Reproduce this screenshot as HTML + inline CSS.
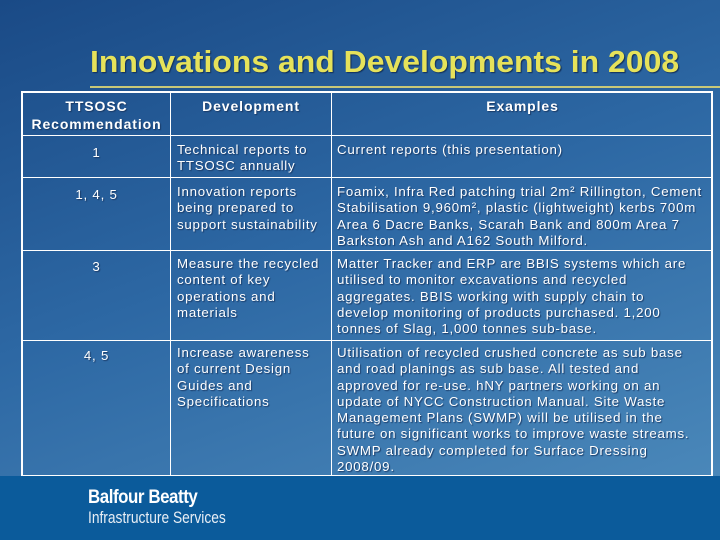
<!DOCTYPE html>
<html><head><meta charset="utf-8"><style>
*{margin:0;padding:0;box-sizing:border-box}
body{width:720px;height:540px;overflow:hidden;position:relative;font-family:"Liberation Sans",sans-serif;background:linear-gradient(160deg,#1a4a86 0%,#2d68a4 45%,#4f8dbd 100%)}
.title{position:absolute;left:90px;top:44px;font-size:31px;font-weight:bold;color:#e6e25a;text-shadow:1px 1px 1px #12305a;white-space:nowrap;transform:scaleX(1.03);transform-origin:left}
.rule{position:absolute;left:90px;top:86px;width:630px;height:2px;background:#c8c878}
.footer{position:absolute;left:0;top:476px;width:720px;height:64px;background:#0b5b9b}
.logo1{position:absolute;left:88px;top:487px;font-size:19px;font-weight:bold;color:#fff;transform:scaleX(0.89);transform-origin:left;letter-spacing:-0.5px}
.logo2{position:absolute;left:88px;top:508px;font-size:17px;color:#e8eef5;transform:scaleX(0.81);transform-origin:left}
.tbl{position:absolute;left:21px;top:91px;width:692px;height:386px;border:2px solid #fff}
.v{position:absolute;top:0;bottom:0;width:1px;background:#fff}
.h{position:absolute;left:0;right:0;height:1px;background:#fff}
.t{position:absolute;font-size:13.3px;line-height:16.3px;color:#fff;text-shadow:1px 1px 1px #1a3a66;white-space:nowrap;letter-spacing:0.75px}
.hd{font-weight:bold;text-align:center;font-size:14px;letter-spacing:0.9px;line-height:18px}
.c{text-align:center}
</style></head><body>
<div class="title">Innovations and Developments in 2008</div>
<div class="rule"></div>
<div class="tbl">
<div class="v" style="left:147px"></div><div class="v" style="left:308px"></div>
<div class="h" style="top:42px"></div><div class="h" style="top:84px"></div><div class="h" style="top:157px"></div><div class="h" style="top:247px"></div>
<div class="t hd" style="left:0;width:147px;top:4px">TTSOSC<br>Recommendation</div>
<div class="t hd" style="left:148px;width:160px;top:4px">Development</div>
<div class="t hd" style="left:309px;width:381px;top:4px">Examples</div>
<div class="t c" style="left:0;width:147px;top:52px">1</div>
<div class="t" style="left:154px;top:49px">Technical reports to<br>TTSOSC annually</div>
<div class="t" style="left:314px;top:49px">Current reports (this presentation)</div>
<div class="t c" style="left:0;width:147px;top:94px">1, 4, 5</div>
<div class="t" style="left:154px;top:91px">Innovation reports<br>being prepared to<br>support sustainability</div>
<div class="t" style="left:314px;top:91px">Foamix, Infra Red patching trial 2m² Rillington, Cement<br>Stabilisation 9,960m², plastic (lightweight) kerbs 700m<br>Area 6 Dacre Banks, Scarah Bank and 800m Area 7<br>Barkston Ash and A162 South Milford.</div>
<div class="t c" style="left:0;width:147px;top:166px">3</div>
<div class="t" style="left:154px;top:163px">Measure the recycled<br>content of key<br>operations and<br>materials</div>
<div class="t" style="left:314px;top:163px">Matter Tracker and ERP are BBIS systems which are<br>utilised to monitor excavations and recycled<br>aggregates.  BBIS working with supply chain to<br>develop monitoring of products purchased. 1,200<br>tonnes of Slag, 1,000 tonnes sub-base.</div>
<div class="t c" style="left:0;width:147px;top:255px">4, 5</div>
<div class="t" style="left:154px;top:252px">Increase awareness<br>of current Design<br>Guides and<br>Specifications</div>
<div class="t" style="left:314px;top:252px">Utilisation of recycled crushed concrete as sub base<br>and road planings as sub base.  All tested and<br>approved for re-use. hNY partners working on an<br>update of NYCC Construction Manual. Site Waste<br>Management Plans (SWMP) will be utilised in the<br>future on significant works to improve waste streams.<br>SWMP already completed for Surface Dressing<br>2008/09.</div>
</div>
<div class="footer"></div>
<div class="logo1">Balfour Beatty</div>
<div class="logo2">Infrastructure Services</div>
</body></html>
